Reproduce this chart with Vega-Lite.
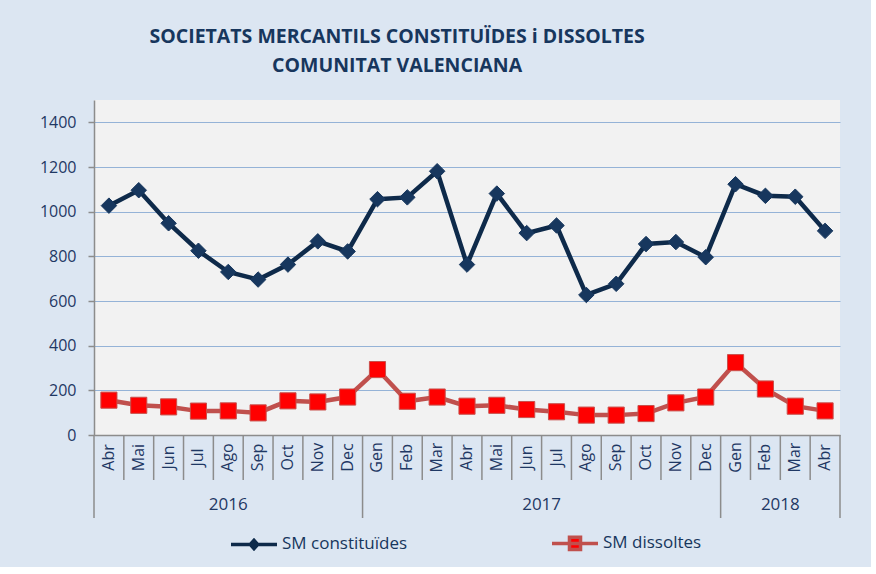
{
  "$schema": "https://vega.github.io/schema/vega-lite/v6.json",
  "background": "#dce6f2",
  "padding": {"left": 39, "top": 26, "right": 30, "bottom": 10},
  "title": {
    "text": ["SOCIETATS MERCANTILS CONSTITUÏDES i DISSOLTES", "COMUNITAT VALENCIANA"],
    "font": "Open Sans",
    "fontSize": 19.5,
    "fontWeight": "bold",
    "color": "#17365d",
    "lineHeight": 29,
    "anchor": "middle",
    "dx": -43,
    "offset": 24
  },
  "datasets": {
    "dades": [
      {"i": 0, "mes": "Abr", "any": "2016", "SM constituïdes": 1027, "SM dissoltes": 156},
      {"i": 1, "mes": "Mai", "any": "2016", "SM constituïdes": 1096, "SM dissoltes": 133},
      {"i": 2, "mes": "Jun", "any": "2016", "SM constituïdes": 948, "SM dissoltes": 126},
      {"i": 3, "mes": "Jul", "any": "2016", "SM constituïdes": 825, "SM dissoltes": 107},
      {"i": 4, "mes": "Ago", "any": "2016", "SM constituïdes": 730, "SM dissoltes": 108},
      {"i": 5, "mes": "Sep", "any": "2016", "SM constituïdes": 696, "SM dissoltes": 99},
      {"i": 6, "mes": "Oct", "any": "2016", "SM constituïdes": 763, "SM dissoltes": 153},
      {"i": 7, "mes": "Nov", "any": "2016", "SM constituïdes": 867, "SM dissoltes": 148},
      {"i": 8, "mes": "Dec", "any": "2016", "SM constituïdes": 822, "SM dissoltes": 170},
      {"i": 9, "mes": "Gen", "any": "2017", "SM constituïdes": 1056, "SM dissoltes": 293},
      {"i": 10, "mes": "Feb", "any": "2017", "SM constituïdes": 1064, "SM dissoltes": 151},
      {"i": 11, "mes": "Mar", "any": "2017", "SM constituïdes": 1181, "SM dissoltes": 170},
      {"i": 12, "mes": "Abr", "any": "2017", "SM constituïdes": 763, "SM dissoltes": 129},
      {"i": 13, "mes": "Mai", "any": "2017", "SM constituïdes": 1081, "SM dissoltes": 133},
      {"i": 14, "mes": "Jun", "any": "2017", "SM constituïdes": 904, "SM dissoltes": 114},
      {"i": 15, "mes": "Jul", "any": "2017", "SM constituïdes": 938, "SM dissoltes": 104},
      {"i": 16, "mes": "Ago", "any": "2017", "SM constituïdes": 627, "SM dissoltes": 89},
      {"i": 17, "mes": "Sep", "any": "2017", "SM constituïdes": 677, "SM dissoltes": 89},
      {"i": 18, "mes": "Oct", "any": "2017", "SM constituïdes": 855, "SM dissoltes": 96},
      {"i": 19, "mes": "Nov", "any": "2017", "SM constituïdes": 864, "SM dissoltes": 144},
      {"i": 20, "mes": "Dec", "any": "2017", "SM constituïdes": 796, "SM dissoltes": 170},
      {"i": 21, "mes": "Gen", "any": "2018", "SM constituïdes": 1123, "SM dissoltes": 324},
      {"i": 22, "mes": "Feb", "any": "2018", "SM constituïdes": 1071, "SM dissoltes": 206},
      {"i": 23, "mes": "Mar", "any": "2018", "SM constituïdes": 1067, "SM dissoltes": 129},
      {"i": 24, "mes": "Abr", "any": "2018", "SM constituïdes": 914, "SM dissoltes": 108}
    ],
    "lims": [
      {"b": -0.5}, {"b": 0.5}, {"b": 1.5}, {"b": 2.5}, {"b": 3.5}, {"b": 4.5}, {"b": 5.5},
      {"b": 6.5}, {"b": 7.5}, {"b": 8.5}, {"b": 9.5}, {"b": 10.5}, {"b": 11.5}, {"b": 12.5},
      {"b": 13.5}, {"b": 14.5}, {"b": 15.5}, {"b": 16.5}, {"b": 17.5}, {"b": 18.5}, {"b": 19.5},
      {"b": 20.5}, {"b": 21.5}, {"b": 22.5}, {"b": 23.5}, {"b": 24.5}
    ],
    "limsAny": [{"b": -0.5}, {"b": 8.5}, {"b": 20.5}, {"b": 24.5}]
  },
  "spacing": 0,
  "bounds": "flush",
  "config": {
    "view": {"stroke": null},
    "concat": {"spacing": 0}
  },
  "vconcat": [
    {
      "width": 746,
      "height": 335,
      "view": {"fill": "#f2f2f2", "stroke": null},
      "data": {"name": "dades"},
      "transform": [{"fold": ["SM constituïdes", "SM dissoltes"], "as": ["serie", "valor"]}],
      "encoding": {
        "x": {
          "field": "i", "type": "quantitative",
          "scale": {"domain": [-0.5, 24.5], "nice": false, "zero": false},
          "axis": {"labels": false, "ticks": false, "grid": false, "title": null, "domainColor": "#8c8c8c", "domainWidth": 1.5}
        },
        "y": {
          "field": "valor", "type": "quantitative",
          "scale": {"domain": [0, 1500], "nice": false},
          "axis": {
            "values": [0, 200, 400, 600, 800, 1000, 1200, 1400], "format": "d",
            "title": null, "grid": true, "gridColor": "#95b3d7", "gridWidth": 1,
            "domainColor": "#8c8c8c", "domainWidth": 1.5, "tickColor": "#8c8c8c", "tickWidth": 1.5, "tickSize": 6,
            "labelPadding": 12, "labelFont": "Open Sans", "labelFontSize": 16, "labelColor": "#1f3864"
          }
        }
      },
      "layer": [
        {
          "mark": {"type": "line", "strokeWidth": 4.5},
          "encoding": {
            "stroke": {
              "field": "serie", "type": "nominal",
              "scale": {"domain": ["SM constituïdes", "SM dissoltes"], "range": ["#0e2a4a", "#c0504d"]},
              "legend": {
                "orient": "none", "legendX": 135, "legendY": 418, "direction": "horizontal",
                "title": null, "symbolType": "M-1,0H1", "symbolSize": 2116, "symbolStrokeWidth": 4,
                "labelFont": "Open Sans", "labelFontSize": 17, "labelColor": "#17365d",
                "labelOffset": 3, "columnPadding": 137, "labelLimit": 300,
                "encode": {
                  "symbols": {
                    "update": {
                      "shape": {"signal": "datum.value === 'SM dissoltes' ? 'M-1,0H1M-0.24,-0.27H0.24V0.27H-0.24Z' : 'M-1,0H1M-0.16,0L0,-0.18L0.16,0L0,0.18Z'"},
                      "fill": {"signal": "datum.value === 'SM dissoltes' ? '#ff0000' : '#17375e'"},
                      "stroke": {"scale": "stroke", "field": "value"},
                      "strokeWidth": {"value": 3.5}
                    }
                  }
                }
              }
            }
          }
        },
        {
          "transform": [{"filter": "datum.serie === 'SM constituïdes'"}],
          "mark": {"type": "point", "shape": "diamond", "filled": true, "size": 240, "fill": "#17375e", "stroke": "#17375e", "strokeWidth": 1, "opacity": 1}
        },
        {
          "transform": [{"filter": "datum.serie === 'SM dissoltes'"}],
          "mark": {"type": "point", "shape": "square", "filled": true, "size": 260, "fill": "#ff0000", "stroke": "#c8504c", "strokeWidth": 1, "opacity": 1}
        }
      ]
    },
    {
      "width": 746,
      "height": 45,
      "layer": [
        {
          "data": {"name": "lims"},
          "mark": {"type": "rule", "color": "#8c8c8c", "strokeWidth": 1.5},
          "encoding": {
            "x": {"field": "b", "type": "quantitative", "scale": {"domain": [-0.5, 24.5], "nice": false, "zero": false}, "axis": null}
          }
        },
        {
          "data": {"name": "dades"},
          "mark": {"type": "text", "angle": 270, "font": "Open Sans", "fontSize": 16, "color": "#1f3864", "align": "center", "baseline": "middle"},
          "encoding": {
            "x": {"field": "i", "type": "quantitative", "axis": null},
            "text": {"field": "mes", "type": "nominal"}
          }
        }
      ]
    },
    {
      "width": 746,
      "height": 38,
      "layer": [
        {
          "data": {"name": "limsAny"},
          "mark": {"type": "rule", "color": "#8c8c8c", "strokeWidth": 1.5},
          "encoding": {
            "x": {"field": "b", "type": "quantitative", "scale": {"domain": [-0.5, 24.5], "nice": false, "zero": false}, "axis": null}
          }
        },
        {
          "data": {"name": "dades"},
          "transform": [{"aggregate": [{"op": "mean", "field": "i", "as": "centre"}], "groupby": ["any"]}],
          "mark": {"type": "text", "font": "Open Sans", "fontSize": 17, "color": "#1f3864", "align": "center", "baseline": "middle", "dy": 6},
          "encoding": {
            "x": {"field": "centre", "type": "quantitative", "axis": null},
            "text": {"field": "any", "type": "nominal"}
          }
        }
      ]
    }
  ]
}
